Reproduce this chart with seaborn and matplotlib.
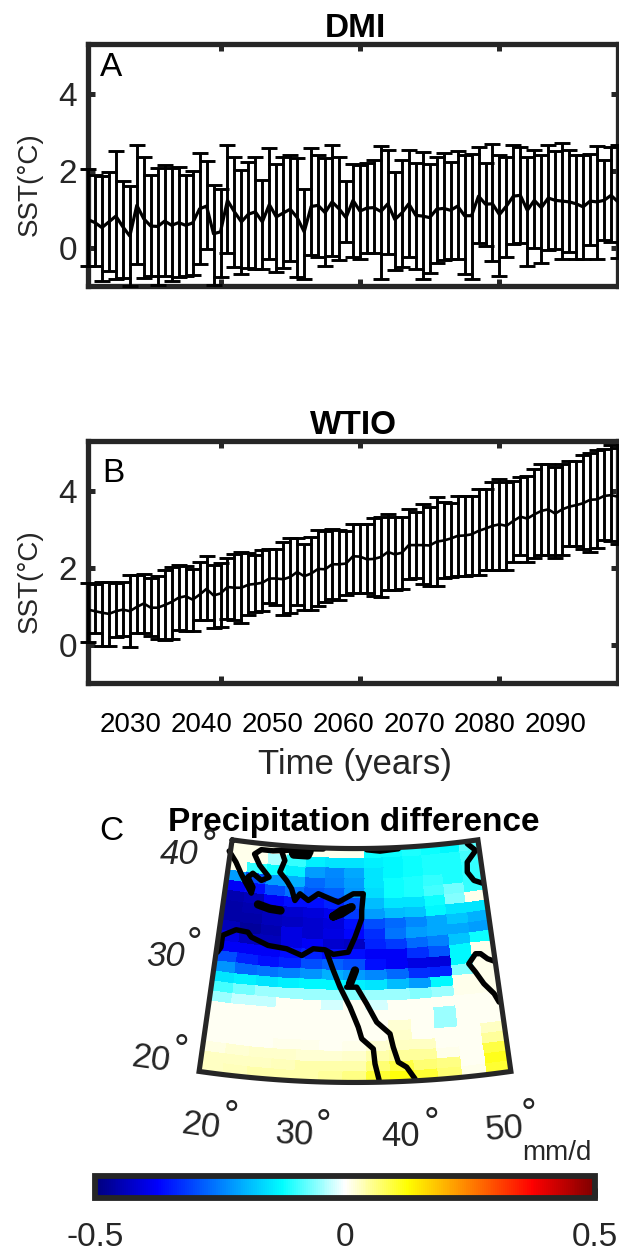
import numpy as np
import pandas as pd
import matplotlib
matplotlib.use('Agg')
import matplotlib.pyplot as plt
from matplotlib.colors import LinearSegmentedColormap, Normalize
from matplotlib.cm import ScalarMappable
import seaborn as sns

# Panel A, DMI
dmi_mean = [0.73, 0.65, 0.52, 0.67, 0.82, 0.54, 0.30, 1.10, 0.75, 0.56, 0.55, 0.69, 0.58, 0.65, 0.58, 0.64, 1.01, 1.08, 0.36, 0.41,
            1.23, 0.93, 0.67, 0.87, 0.93, 0.67, 1.12, 0.80, 0.90, 1.00, 0.78, 0.41, 1.07, 1.10, 0.91, 1.19, 1.01, 0.78, 1.23,
            0.95, 1.03, 1.04, 0.94, 1.14, 0.73, 0.90, 1.14, 0.84, 0.82, 0.78, 1.00, 1.02, 0.97, 1.08, 0.83, 0.83, 1.34, 1.13, 1.14,
            0.86, 1.08, 1.34, 1.36, 0.97, 1.23, 1.04, 1.29, 1.23, 1.21, 1.19, 1.14, 1.06, 1.21, 1.19, 1.23, 1.36, 1.19]
dmi_upper = [2.05, 1.90, 1.87, 1.97, 2.51, 1.73, 1.60, 2.68, 2.35, 1.90, 2.08, 2.16, 2.08, 2.11, 1.88, 1.99, 2.47, 2.25, 1.62, 1.52,
             2.68, 2.37, 2.01, 2.24, 2.35, 1.77, 2.60, 2.18, 2.35, 2.42, 2.33, 1.52, 2.60, 2.40, 2.33, 2.68, 2.37, 1.73, 2.18,
             2.16, 2.20, 2.27, 2.64, 2.55, 1.97, 2.29, 2.55, 2.21, 2.48, 2.18, 2.37, 2.46, 2.23, 2.51, 2.40, 2.44, 2.61, 2.21, 2.70,
             2.40, 2.37, 2.66, 2.61, 2.35, 2.55, 2.40, 2.68, 2.51, 2.72, 2.55, 2.40, 2.42, 2.44, 2.64, 2.29, 2.63, 2.66]
dmi_lower = [-0.48, -0.48, -0.87, -0.61, -0.81, -0.79, -1.00, -0.43, -0.78, -0.74, -0.98, -0.74, -0.87, -0.76, -0.74, -0.72, -0.42, -0.04, -0.98, -0.76,
             -0.14, -0.50, -0.70, -0.52, -0.55, -0.55, -0.30, -0.63, -0.52, -0.35, -0.76, -0.81, -0.20, -0.24, -0.48, -0.23, -0.33, 0.15, -0.24,
             -0.29, -0.14, -0.14, -0.81, -0.16, -0.59, -0.50, -0.24, -0.57, -0.81, -0.65, -0.39, -0.33, -0.31, -0.31, -0.70, -0.81, 0.12, 0.04, -0.35,
             -0.74, -0.24, 0.10, 0.12, -0.48, 0.00, -0.40, -0.07, -0.04, -0.30, -0.11, -0.30, -0.30, 0.06, -0.29, 0.21, 0.14, -0.26]

# Panel B, WTIO
wtio_mean = [0.91, 0.87, 0.83, 0.80, 0.87, 0.91, 0.87, 0.98, 1.07, 0.96, 0.96, 1.03, 1.11, 1.22, 1.26, 1.17, 1.30, 1.45, 1.28, 1.33,
             1.50, 1.48, 1.48, 1.56, 1.58, 1.61, 1.72, 1.72, 1.70, 1.76, 1.89, 1.78, 1.85, 1.97, 1.96, 2.09, 2.09, 2.11, 2.30,
             2.29, 2.22, 2.23, 2.28, 2.41, 2.35, 2.39, 2.59, 2.59, 2.59, 2.58, 2.68, 2.71, 2.76, 2.83, 2.84, 2.87, 2.96, 3.02, 3.09,
             3.13, 3.09, 3.22, 3.33, 3.28, 3.39, 3.48, 3.52, 3.41, 3.52, 3.59, 3.63, 3.68, 3.77, 3.78, 3.87, 3.89, 3.85]
wtio_upper = [1.61, 1.59, 1.63, 1.63, 1.61, 1.63, 1.80, 1.82, 1.83, 1.74, 1.78, 1.94, 2.03, 2.06, 2.04, 1.97, 2.15, 2.30, 2.06, 2.13,
              2.26, 2.35, 2.41, 2.39, 2.34, 2.46, 2.48, 2.50, 2.67, 2.77, 2.78, 2.61, 2.81, 2.98, 2.96, 3.02, 2.98, 2.95, 3.13,
              3.15, 3.13, 3.30, 3.33, 3.40, 3.33, 3.32, 3.52, 3.45, 3.65, 3.57, 3.84, 3.72, 3.68, 3.88, 3.86, 3.88, 4.06, 4.04, 4.22,
              4.32, 4.22, 4.26, 4.37, 4.39, 4.57, 4.70, 4.70, 4.63, 4.70, 4.78, 4.77, 4.93, 5.00, 5.07, 5.09, 5.19, 5.13]
wtio_lower = [0.08, 0.29, -0.03, -0.04, 0.20, 0.22, -0.06, 0.29, 0.30, 0.22, 0.15, 0.13, 0.15, 0.39, 0.35, 0.35, 0.65, 0.63, 0.43, 0.45,
              0.67, 0.65, 0.55, 0.78, 0.84, 0.87, 1.09, 1.04, 0.78, 0.83, 1.02, 0.91, 0.90, 1.00, 1.10, 1.19, 1.17, 1.30, 1.35,
              1.35, 1.33, 1.26, 1.24, 1.41, 1.42, 1.45, 1.72, 1.74, 1.57, 1.52, 1.52, 1.74, 1.76, 1.78, 1.78, 1.80, 1.82, 1.94, 1.94,
              1.94, 1.94, 2.16, 2.32, 2.16, 2.26, 2.33, 2.32, 2.26, 2.32, 2.57, 2.57, 2.50, 2.41, 2.52, 2.72, 2.70, 2.61]

first_year = 2021
last_year = 2097
time_labels = ['2030', '2040', '2050', '2060', '2070', '2080', '2090']

# Panel C, rows run from 41N down to 18N, columns from 20E to 50E
n = 0.005
precip = [
    [.01, .01, .01, -.05, .01, .01, .01, -.12, -.12, -.11, -.12, -.13, -.08],
    [.01, .01, -.04, -.10, -.14, -.15, -.15, -.14, -.13, -.12, -.11, -.11, -.09],
    [.01, -.10, -.12, -.14, -.22, -.24, -.21, -.15, -.13, -.12, -.11, -.11, -.10],
    [-.22, -.30, -.22, -.20, -.27, -.25, -.22, -.15, -.12, -.11, -.10, -.11, -.10],
    [-.38, -.36, -.30, -.26, -.29, -.28, -.23, -.16, -.12, -.11, -.09, -.07, -.10],
    [-.45, -.44, -.38, -.36, -.36, -.34, -.30, -.19, -.15, -.15, -.12, -.06, .01],
    [-.46, -.45, -.44, -.42, -.41, -.39, -.32, -.22, -.19, -.18, -.13, -.15, -.15],
    [-.46, -.46, -.44, -.43, -.42, -.41, -.36, -.30, -.27, -.24, -.21, -.18, -.20],
    [-.44, -.47, -.45, -.40, -.42, -.40, -.37, -.33, -.26, -.22, -.21, -.21, -.22],
    [-.40, -.44, -.44, -.40, -.38, -.42, -.43, -.34, -.32, -.27, -.25, -.18, -.12],
    [-.38, -.38, -.38, -.36, -.34, -.36, -.36, -.38, -.38, -.33, -.29, -.13, .01],
    [-.30, -.34, -.36, -.34, -.30, -.28, -.30, -.36, -.38, -.40, -.41, -.13, .01],
    [-.23, -.27, -.26, -.25, -.23, -.20, -.22, -.24, -.27, -.33, -.34, -.06, .01],
    [-.15, -.14, -.15, -.14, -.13, -.13, -.14, -.15, -.19, -.22, -.13, .01, .01],
    [-.09, -.07, -.05, -.05, -.05, -.05, -.06, -.05, -.05, -.06, -.05, .01, .01],
    [-.05, -.03, -.03, n, n, -.02, n, -.02, n, n, n, n, n],
    [n, n, n, n, n, n, n, n, n, n, -.05, n, n],
    [n, n, n, n, n, n, n, n, .02, n, -.05, n, n],
    [n, n, n, n, n, n, n, n, .025, n, n, n, .03],
    [n, n, n, .01, .01, n, .01, .02, .03, .03, n, n, .05],
    [.015, .02, .025, .025, .02, .02, .025, .04, .05, .05, .01, n, .09],
    [.03, .03, .03, .035, .04, .04, .04, .07, .09, .07, .06, n, .11],
    [.03, .035, .04, .04, .04, .05, .06, .10, .12, .10, .07, .01, .10],
]
lon_min, lon_max = 20, 50
lat_min, lat_max = 18, 41

# Coastlines as (lon, lat)
coasts = [
    [(19.84, 39.87), (20.83, 38.88), (21.61, 37.81), (22.1, 37.2), (23.05, 36.04), (23.16, 36.64), (22.44, 37.57), (22.97, 38.0),
     (24.05, 37.39), (24.91, 37.78), (23.67, 38.85), (22.91, 39.9), (23.67, 40.4), (25.09, 40.4), (27.1, 40.6), (29.32, 40.85), (31.15, 40.9)],
    [(26.1, 40.5), (26.6, 39.55), (26.12, 38.37), (26.99, 37.6), (27.64, 36.83), (28.11, 35.7), (28.64, 36.39), (29.64, 35.78), (30.76, 36.49),
     (32.13, 36.03), (33.09, 35.71), (34.8, 36.55), (35.96, 36.55), (35.76, 34.91), (35.75, 34.1), (35.0, 32.29), (34.27, 30.81), (32.65, 30.57),
     (31.73, 31.0), (30.45, 31.06), (29.23, 30.34), (27.55, 30.91), (25.51, 31.09), (23.6, 31.74), (23.16, 32.19), (21.84, 32.29), (20.44, 31.57),
     (20.44, 30.4), (20.14, 29.87)],
    [(31.92, 30.77), (32.69, 28.99), (33.43, 27.36), (34.49, 25.4), (35.33, 23.44), (35.67, 22.3), (36.81, 21.29), (36.95, 19.82), (37.31, 18.24)],
    [(34.13, 27.37), (35.18, 27.37), (36.2, 25.73), (37.2, 23.91), (38.51, 22.73), (38.79, 21.4), (39.23, 19.91), (40.02, 19.39), (40.77, 18.2)],
    [(48.66, 40.76), (49.56, 40.0), (48.37, 38.96), (48.23, 37.99), (48.88, 37.1), (49.82, 36.72)],
    [(49.89, 28.97), (49.22, 29.29), (48.56, 29.87), (48.02, 29.93), (47.17, 29.03), (47.78, 28.14), (48.5, 26.9), (49.42, 25.8), (49.81, 24.91)],
    [(36.42, 40.87), (38.03, 40.71), (40.27, 40.87)],
]
# Islands and narrow gulfs come out as solid blobs
blobs = [
    [(27.5, 40.4), (29.5, 40.6), (29.3, 40.2), (27.6, 40.2), (27.5, 40.4)],
    [(35.0, 29.01), (34.47, 27.7)],
    [(23.95, 35.01), (25.33, 34.7), (26.56, 34.62)],
    [(32.55, 34.3), (33.49, 34.9), (34.62, 35.24), (33.49, 34.6), (32.55, 34.3)],
]

W, H = 619, 1251
DARK = '#262626'

sns.set_theme(style='white')
plt.rcParams['font.family'] = ['Liberation Sans', 'DejaVu Sans']
plt.rcParams['text.color'] = DARK

fig = plt.figure(figsize=(6.19 + 1e-6, 12.51 + 1e-6), dpi=100)


def pixel_axes(left, top, right, bottom):
    return fig.add_axes([left / W, 1 - bottom / H, (right - left) / W, (bottom - top) / H])


def label(px, py, s, size=24, **kw):
    fig.text(px / W, 1 - py / H, s, fontsize=size, ha='center', va='center', **kw)


def series_panel(ax, mean, upper, lower, line_width):
    years = np.arange(first_year, last_year + 1)
    mean = np.array(mean)
    err = [mean - np.array(lower), np.array(upper) - mean]
    bars = ax.errorbar(years, mean, yerr=err, fmt='none', ecolor='black', elinewidth=2.1, capsize=6, capthick=2.1)
    for cap in bars[1]:
        cap.set_clip_on(False)
    for bar in bars[2]:
        bar.set_clip_on(False)
    df = pd.DataFrame({'year': years, 'sst': mean})
    sns.lineplot(data=df, x='year', y='sst', ax=ax, color='black', linewidth=line_width, errorbar=None)
    ax.set_xlim(first_year, last_year)
    ax.set_ylim(-1, 5.3)
    ax.set_xticks([2040, 2060, 2080])
    ax.set_xticklabels([])
    ax.set_yticks([0, 2, 4])
    ax.tick_params(direction='in', length=5, width=3.6, color=DARK, top=True, right=True, bottom=True, left=True,
                   labelsize=24, labelcolor=DARK, pad=8)
    ax.set_xlabel('')
    ax.set_ylabel('SST(°C)', fontsize=20, color=DARK)
    ax.yaxis.set_label_coords(-0.085, 0.42)
    for spine in ax.spines.values():
        spine.set_linewidth(3.8)
        spine.set_color(DARK)
        spine.set_zorder(1)


ax_a = pixel_axes(88, 44, 618, 286)
series_panel(ax_a, dmi_mean, dmi_upper, dmi_lower, 2.3)
ax_b = pixel_axes(88, 441, 618, 683)
series_panel(ax_b, wtio_mean, wtio_upper, wtio_lower, 1.9)

label(355, 28, 'DMI', weight='bold', color='black')
label(353, 425, 'WTIO', weight='bold', color='black')
label(111, 67, 'A', color='black')
label(113, 473, 'B', color='black')
label(111, 831, 'C', color='black')
label(354, 822, 'Precipitation difference', weight='bold', color='black')

for px, s in zip([131, 202, 273, 343, 414, 485, 556], time_labels):
    label(px, 725, s, size=20, color='black')
label(355, 764, 'Time (years)', size=25)

# Conic map, one map unit is one degree of latitude on the central meridian
px_per_unit = 10.17
apex_px, apex_py = 355, -22
r_south = 108.6
cone = 0.541


def project(lon, lat):
    r = r_south - (np.asarray(lat, float) - lat_min)
    theta = np.radians(cone * (np.asarray(lon, float) - 35))
    return r * np.sin(theta), -r * np.cos(theta)


cmap = LinearSegmentedColormap.from_list('jet_white', [
    (0, '#00007f'), (0.125, '#0000ff'), (0.375, '#00ffff'), (0.5, '#ffffff'),
    (0.625, '#ffff00'), (0.875, '#ff0000'), (1, '#7f0000')], N=256)
norm = Normalize(-0.5, 0.5)

map_box = (180, 830, 530, 1095)
ax_map = pixel_axes(*map_box)
ax_map.set_xlim((map_box[0] - apex_px) / px_per_unit, (map_box[2] - apex_px) / px_per_unit)
ax_map.set_ylim(-(map_box[3] - apex_py) / px_per_unit, -(map_box[1] - apex_py) / px_per_unit)
ax_map.axis('off')

values = np.array(precip)
lon_edges = np.linspace(lon_min, lon_max, values.shape[1] + 1)
lat_edges = np.linspace(lat_max, lat_min, values.shape[0] + 1)
grid_x, grid_y = project(*np.meshgrid(lon_edges, lat_edges))
ax_map.pcolormesh(grid_x, grid_y, values, cmap=cmap, norm=norm, shading='flat', edgecolors='face', linewidth=0.2)

for coast in coasts:
    lons, lats = zip(*coast)
    x, y = project(lons, lats)
    ax_map.plot(x, y, color='black', lw=3.9, solid_capstyle='round', solid_joinstyle='round')
for blob in blobs:
    lons, lats = zip(*blob)
    x, y = project(lons, lats)
    ax_map.plot(x, y, color='black', lw=6, solid_capstyle='round', solid_joinstyle='round')

edge_lon = np.linspace(lon_min, lon_max, 60)
frame_lon = np.r_[edge_lon, edge_lon[::-1], lon_min]
frame_lat = np.r_[np.full(60, lat_max), np.full(60, lat_min), lat_max]
frame_x, frame_y = project(frame_lon, frame_lat)
ax_map.plot(frame_x, frame_y, color=DARK, lw=3.7, solid_joinstyle='miter')

# Graticule labels
for px, py, s, rot, style, ring_x, ring_y in [(179, 854, '40', 0, 'italic', 207, 837), (166, 956, '30', 0, 'italic', 192, 935),
                                              (151, 1059, '20', -8, 'normal', 179, 1042), (201, 1126, '20', -8, 'normal', 229, 1108),
                                              (295, 1135, '30', -3, 'normal', 321, 1117), (401, 1136, '40', 0, 'normal', 429, 1115),
                                              (504, 1129, '50', 4, 'normal', 526, 1106)]:
    label(px, py, s, size=25, rotation=rot, style=style)
    label(ring_x + 2, ring_y + 9, '°', size=28)

ax_bar = pixel_axes(95, 1176, 595, 1198)
cb = fig.colorbar(ScalarMappable(norm=norm, cmap=cmap), cax=ax_bar, orientation='horizontal')
cb.set_ticks([-0.5, 0, 0.5])
cb.set_ticklabels(['-0.5', '0', '0.5'])
cb.ax.tick_params(direction='in', length=7, width=3.6, color=DARK, labelsize=24, labelcolor=DARK, pad=17, bottom=True)
cb.outline.set_linewidth(4.2)
cb.outline.set_edgecolor(DARK)
label(557, 1153, 'mm/d', size=20)

fig.savefig('out.png', dpi=100)
